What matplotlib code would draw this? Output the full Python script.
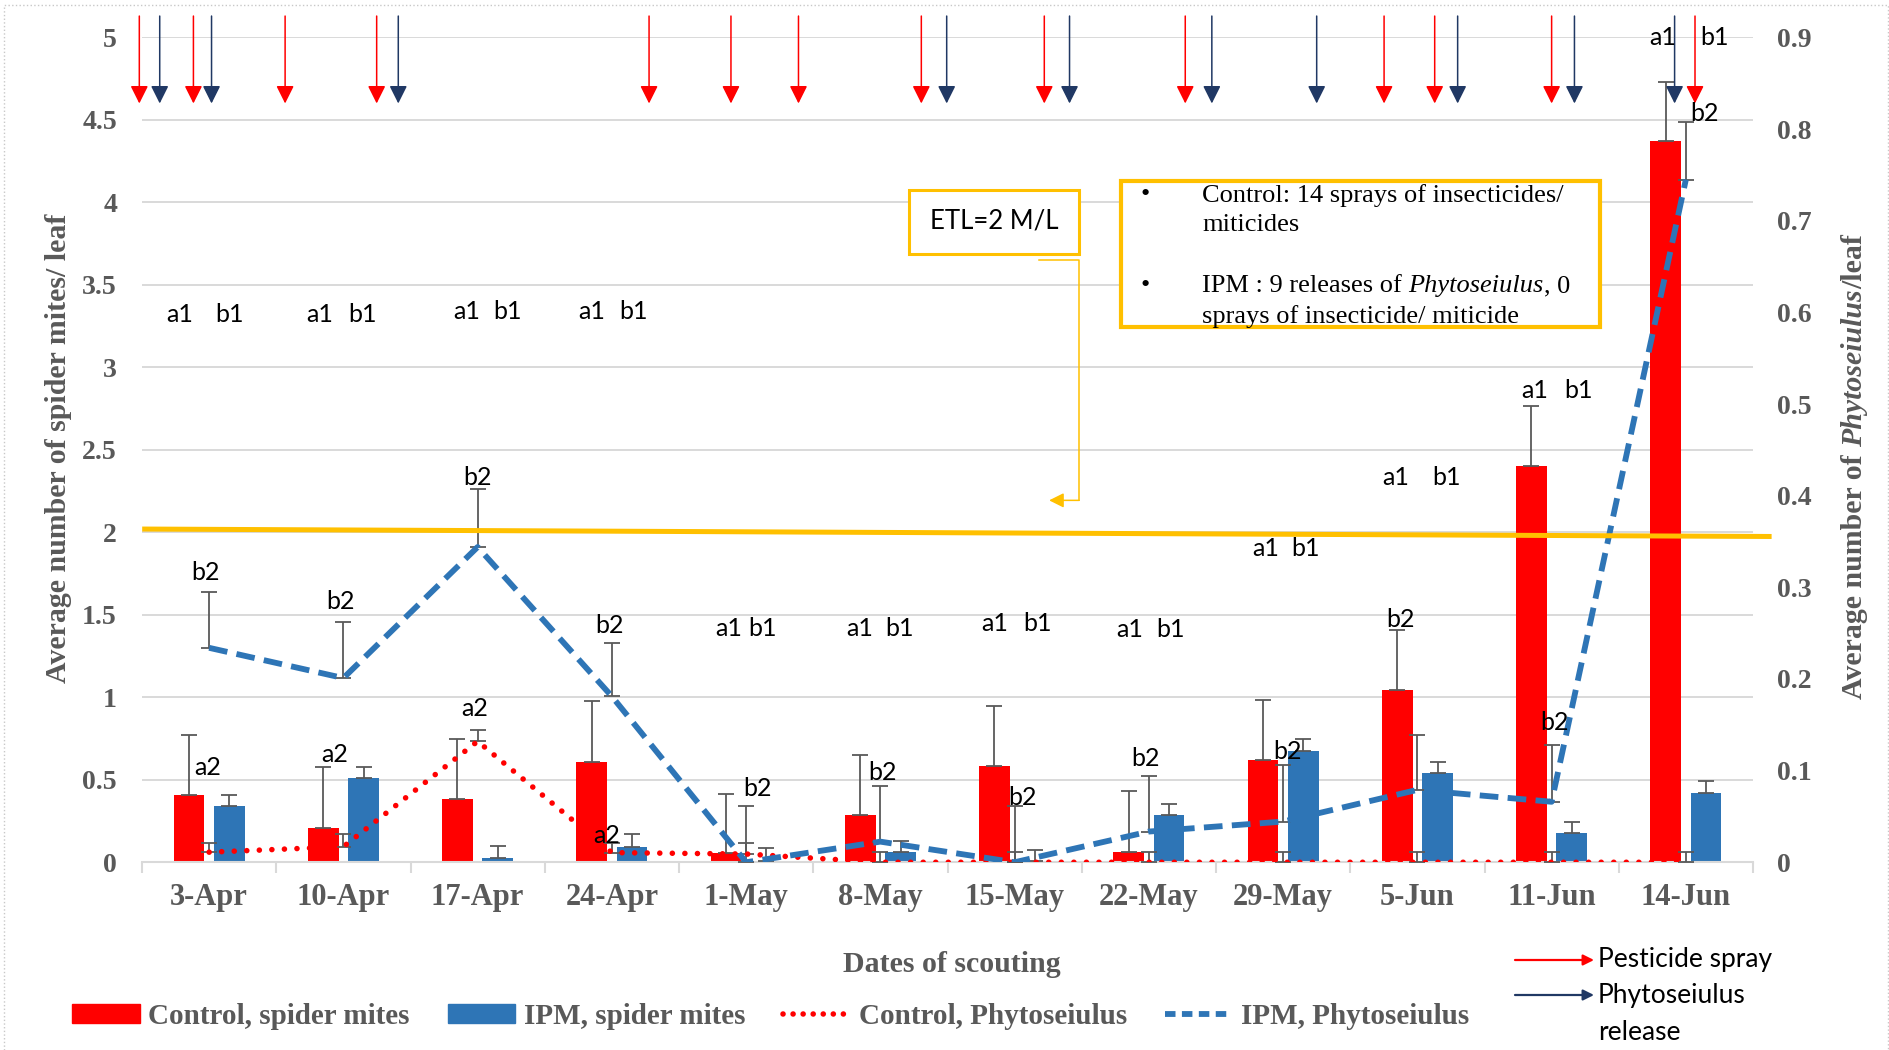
import numpy as np
import matplotlib.pyplot as plt
from matplotlib.patches import Rectangle, Patch, FancyArrowPatch
from matplotlib.lines import Line2D

# scouting dates
dates = ["3-Apr", "10-Apr", "17-Apr", "24-Apr", "1-May", "8-May",
         "15-May", "22-May", "29-May", "5-Jun", "11-Jun", "14-Jun"]

# spider mites per leaf (left axis)
control_mites = [0.41, 0.21, 0.385, 0.61, 0.055, 0.287, 0.585, 0.065, 0.62, 1.043, 2.40, 4.37]
control_mites_err = [0.36, 0.365, 0.365, 0.365, 0.36, 0.363, 0.365, 0.365, 0.365, 0.362, 0.365, 0.36]
ipm_mites = [0.34, 0.51, 0.026, 0.095, 0.01, 0.062, 0.008, 0.285, 0.675, 0.54, 0.176, 0.42]
ipm_mites_err = [0.07, 0.07, 0.074, 0.075, 0.075, 0.068, 0.067, 0.07, 0.07, 0.07, 0.067, 0.07]

# Phytoseiulus per leaf (right axis)
control_phyto = [0.011, 0.017, 0.132, 0.0105, 0.009, 0.0, 0.0, 0.0, 0.0, 0.0, 0.0, 0.0]
control_phyto_err = [0.01, 0.014, 0.012, 0.011, 0.012, 0.011, 0.011, 0.011, 0.011, 0.011, 0.011, 0.011]
ipm_phyto = [0.234, 0.201, 0.344, 0.181, 0.0, 0.0225, 0.0, 0.0335, 0.0444, 0.079, 0.066, 0.745]
ipm_phyto_err = [0.061, 0.061, 0.063, 0.058, 0.061, 0.061, 0.061, 0.061, 0.062, 0.06, 0.062, 0.063]

# economic threshold line (left axis), start and end
etl_x = [-0.48, 11.62]
etl_y = [2.02, 1.975]

# top arrows: pesticide sprays and Phytoseiulus releases (category units)
spray_x = [-0.52, -0.117, 0.566, 1.248, 3.277, 3.887, 4.39, 5.305, 6.221, 7.271, 8.752, 9.129, 10.0, 11.068]
release_x = [-0.368, 0.018, 1.409, 5.494, 6.409, 7.469, 8.25, 9.3, 10.17, 10.916]

# significance letters (category x, left-axis y, text)
letters = [
    (-0.216, 3.32, "a1"), (0.153, 3.32, "b1"), (0.826, 3.32, "a1"), (1.14, 3.32, "b1"),
    (1.921, 3.34, "a1"), (2.226, 3.34, "b1"), (2.846, 3.34, "a1"), (3.16, 3.34, "b1"),
    (3.869, 1.42, "a1"), (4.12, 1.42, "b1"), (4.847, 1.42, "a1"), (5.144, 1.42, "b1"),
    (5.853, 1.45, "a1"), (6.167, 1.45, "b1"), (6.858, 1.41, "a1"), (7.163, 1.41, "b1"),
    (7.873, 1.90, "a1"), (8.169, 1.90, "b1"), (8.842, 2.33, "a1"), (9.219, 2.33, "b1"),
    (9.874, 2.86, "a1"), (10.197, 2.86, "b1"), (10.826, 5.0, "a1"), (11.212, 5.0, "b1"),
    (-0.027, 1.756, "b2"), (0.978, 1.582, "b2"), (2.0, 2.332, "b2"), (2.98, 1.436, "b2"),
    (4.084, 0.445, "b2"), (5.018, 0.547, "b2"), (6.059, 0.394, "b2"), (6.975, 0.627, "b2"),
    (8.034, 0.671, "b2"), (8.878, 1.472, "b2"), (10.018, 0.845, "b2"), (11.14, 4.54, "b2"),
    (-0.009, 0.576, "a2"), (0.934, 0.656, "a2"), (1.975, 0.933, "a2"), (2.962, 0.16, "a2"),
]

RED = "#FF0000"
BLUE = "#2E75B6"
NAVY = "#203864"
GOLD = "#FFC000"
GRAY = "#595959"
SERIF = "Liberation Serif"
SANS = ["Lato", "DejaVu Sans"]

fig = plt.figure(figsize=(18.89, 10.5), dpi=100)
ax = fig.add_axes([142 / 1889, 0.1788, 1611 / 1889, 0.7855])
ax2 = ax.twinx()

x = np.arange(len(dates))
w = 0.23
off = 0.15

ax.bar(x - off, control_mites, w, color=RED, zorder=2)
ax.bar(x + off, ipm_mites, w, color=BLUE, zorder=2)
ax.errorbar(x - off, control_mites, yerr=[np.zeros(len(x)), control_mites_err], fmt="none",
            ecolor=GRAY, elinewidth=1.3, capsize=6, capthick=1.3, zorder=3)
ax.errorbar(x + off, ipm_mites, yerr=[np.zeros(len(x)), ipm_mites_err], fmt="none",
            ecolor=GRAY, elinewidth=1.3, capsize=6, capthick=1.3, zorder=3)

ax.set_xlim(-0.5, 11.5)
ax.set_ylim(0, 5)
ax2.set_ylim(0, 0.9)

# Phytoseiulus lines
ax2.errorbar(x, control_phyto, yerr=[np.zeros(len(x)), control_phyto_err], fmt="none",
             ecolor=GRAY, elinewidth=1.3, capsize=6, capthick=1.3, zorder=3)
ax2.errorbar(x, ipm_phyto, yerr=[np.zeros(len(x)), ipm_phyto_err], fmt="none",
             ecolor=GRAY, elinewidth=1.3, capsize=6, capthick=1.3, zorder=3)
ax2.plot(x, control_phyto, color=RED, lw=4, linestyle=(0, (0.01, 2.25)),
         dash_capstyle="round", zorder=4)
ax2.plot(x, ipm_phyto, color=BLUE, lw=4.2, linestyle=(0, (3.2, 1.6)), zorder=4)

# ETL line
ax2.plot(etl_x, etl_y, color=GOLD, lw=3.6, transform=ax.transData, clip_on=False, zorder=5)

# grid / spines / ticks
ax.set_axisbelow(True)
ax.yaxis.grid(True, color="#D9D9D9", lw=1.4)
ax.set_yticks(np.arange(0, 5.01, 0.5))
ax.set_yticklabels(["0", "0.5", "1", "1.5", "2", "2.5", "3", "3.5", "4", "4.5", "5"])
ax2.set_yticks(np.arange(0, 0.91, 0.1))
ax2.set_yticklabels(["0", "0.1", "0.2", "0.3", "0.4", "0.5", "0.6", "0.7", "0.8", "0.9"])
for a in (ax, ax2):
    for s in a.spines.values():
        s.set_visible(False)
ax.spines["bottom"].set_visible(True)
ax.spines["bottom"].set_color("#D9D9D9")
ax.spines["bottom"].set_linewidth(1.5)

ax.set_xticks(x)
ax.set_xticklabels(dates)
ax.set_xticks(np.arange(-0.5, 12, 1), minor=True)
ax.tick_params(axis="x", which="major", length=0, pad=15)
ax.tick_params(axis="x", which="minor", length=8, width=1.5, color="#D9D9D9")
ax.tick_params(axis="y", length=0, pad=18)
ax2.tick_params(axis="y", length=0, pad=17)
for lab in ax.get_xticklabels():
    lab.set_fontfamily(SERIF); lab.set_fontweight("bold"); lab.set_fontsize(22); lab.set_color(GRAY)
for lab in ax.get_yticklabels() + ax2.get_yticklabels():
    lab.set_fontfamily(SERIF); lab.set_fontweight("bold"); lab.set_fontsize(20); lab.set_color(GRAY)

# axis titles
ax.set_ylabel("Average number of spider mites/ leaf", fontfamily=SERIF, fontweight="bold",
              fontsize=21.5, color=GRAY)
ax.yaxis.set_label_coords(-0.0435, 0.502)

lkw = dict(fontfamily=SERIF, fontweight="bold", fontsize=21.5, color=GRAY, rotation=90)
r1 = fig.text(1855 / 1889, 1 - 699 / 1050, "Average number of ", ha="left", va="center",
              rotation_mode="anchor", **lkw)
r2 = fig.text(0, 0, "Phytoseiulus", style="italic", ha="left", va="center",
              rotation_mode="anchor", **lkw)
r3 = fig.text(0, 0, "/leaf", ha="left", va="center", rotation_mode="anchor", **lkw)
fig.canvas.draw()
inv = fig.transFigure.inverted()
x_px = fig.transFigure.transform(r1.get_position())[0]
r2.set_position(inv.transform((x_px, r1.get_window_extent().y1)))
r3.set_position(inv.transform((x_px, r2.get_window_extent().y1)))

fig.text(952 / 1889, 1 - 964 / 1050, "Dates of scouting", fontfamily=SERIF, fontweight="bold",
         fontsize=21.5, color=GRAY, ha="center", va="center")

# significance letters
for lx, ly, lt in letters:
    ax2.text(lx, ly, lt, transform=ax.transData, fontsize=18, family=SANS,
             ha="center", va="center", zorder=6, clip_on=False)

# top arrows
for xs, col in [(spray_x, RED), (release_x, NAVY)]:
    for xa in xs:
        ax2.annotate("", xy=(xa, 4.6), xytext=(xa, 5.13), xycoords=ax.transData,
                     textcoords=ax.transData, annotation_clip=False,
                     arrowprops=dict(arrowstyle="-|>", color=col, lw=1.1,
                                     mutation_scale=27, shrinkA=0, shrinkB=0))

# ETL box with elbow connector
ax2.add_patch(Rectangle((5.215, 3.688), 1.266, 0.386, transform=ax.transData, fill=True,
                        facecolor="white", edgecolor=GOLD, lw=2.2, zorder=6, clip_on=False))
ax2.text(5.848, 3.885, "ETL=2 M/L", transform=ax.transData, fontsize=18.5, family=SANS,
         ha="center", va="center", zorder=7)
ax2.plot([6.185, 6.481, 6.481], [3.652, 3.652, 2.194], color=GOLD, lw=1.1,
         transform=ax.transData, zorder=6)
ax2.annotate("", xy=(6.257, 2.194), xytext=(6.481, 2.194), xycoords=ax.transData,
             textcoords=ax.transData,
             arrowprops=dict(arrowstyle="-|>", color=GOLD, lw=1.1, mutation_scale=22,
                             shrinkA=0, shrinkB=0))

# treatment info box
ax2.add_patch(Rectangle((6.795, 3.243), 3.565, 0.89, transform=ax.transData, fill=True,
                        facecolor="white", edgecolor=GOLD, lw=3, zorder=6))
tkw = dict(transform=ax.transData, fontsize=19, fontfamily=SERIF, va="center", zorder=7)
ax2.text(6.975, 4.045, "\u2022", ha="center", **tkw)
ax2.text(6.975, 3.491, "\u2022", ha="center", **tkw)
ax2.text(7.397, 4.045, "Control: 14 sprays of insecticides/", ha="left", **tkw)
ax2.text(7.397, 3.863, "miticides", ha="left", **tkw)
t1 = ax2.text(7.397, 3.491, "IPM : 9 releases of ", ha="left", **tkw)
t2 = ax2.annotate("Phytoseiulus", xy=(1, 0), xycoords=t1, va="bottom", ha="left",
                  fontsize=19, fontfamily=SERIF, style="italic", zorder=7)
ax2.annotate(", 0", xy=(1, 0), xycoords=t2, va="bottom", ha="left",
             fontsize=19, fontfamily=SERIF, zorder=7)
ax2.text(7.397, 3.309, "sprays of insecticide/ miticide", ha="left", **tkw)

# series legend
handles = [
    Patch(facecolor=RED, edgecolor=RED),
    Patch(facecolor=BLUE, edgecolor=BLUE),
    Line2D([], [], color=RED, lw=4, linestyle=(0, (0.01, 1.8)), dash_capstyle="round"),
    Line2D([], [], color=BLUE, lw=4.2, linestyle=(0, (1.8, 1.1))),
]
labels = ["Control, spider mites", "IPM, spider mites", "Control, Phytoseiulus", "IPM, Phytoseiulus"]
leg = fig.legend(handles, labels, loc="center", bbox_to_anchor=(0.408, 0.032), ncol=4,
                 frameon=False, handlelength=2.3, handleheight=0.6, handletextpad=0.3,
                 columnspacing=1.3, prop=dict(family=SERIF, weight="bold", size=21))
for t in leg.get_texts():
    t.set_color(GRAY)

# arrow legend
for yy, col in [(1 - 960 / 1050, RED), (1 - 995 / 1050, NAVY)]:
    fig.add_artist(FancyArrowPatch(
        (1515 / 1889, yy), (1594 / 1889, yy), transform=fig.transFigure,
        arrowstyle="-|>", color=col, lw=1.6, mutation_scale=16, shrinkA=0, shrinkB=0))
fig.text(1598 / 1889, 1 - 960 / 1050, "Pesticide spray", fontsize=19, family=SANS, va="center")
fig.text(1598 / 1889, 1 - 995 / 1050, "Phytoseiulus", fontsize=19, family=SANS, va="center")
fig.text(1598 / 1889, 1 - 1032 / 1050, "release", fontsize=19, family=SANS, va="center")

# chart area border
fig.add_artist(Line2D([0.002, 0.002, 0.9995, 0.9995], [0.0, 0.995, 0.995, 0.0],
                      transform=fig.transFigure, color="#C8C8C8", lw=1, linestyle=":"))

fig.savefig("out.png", dpi=100)
